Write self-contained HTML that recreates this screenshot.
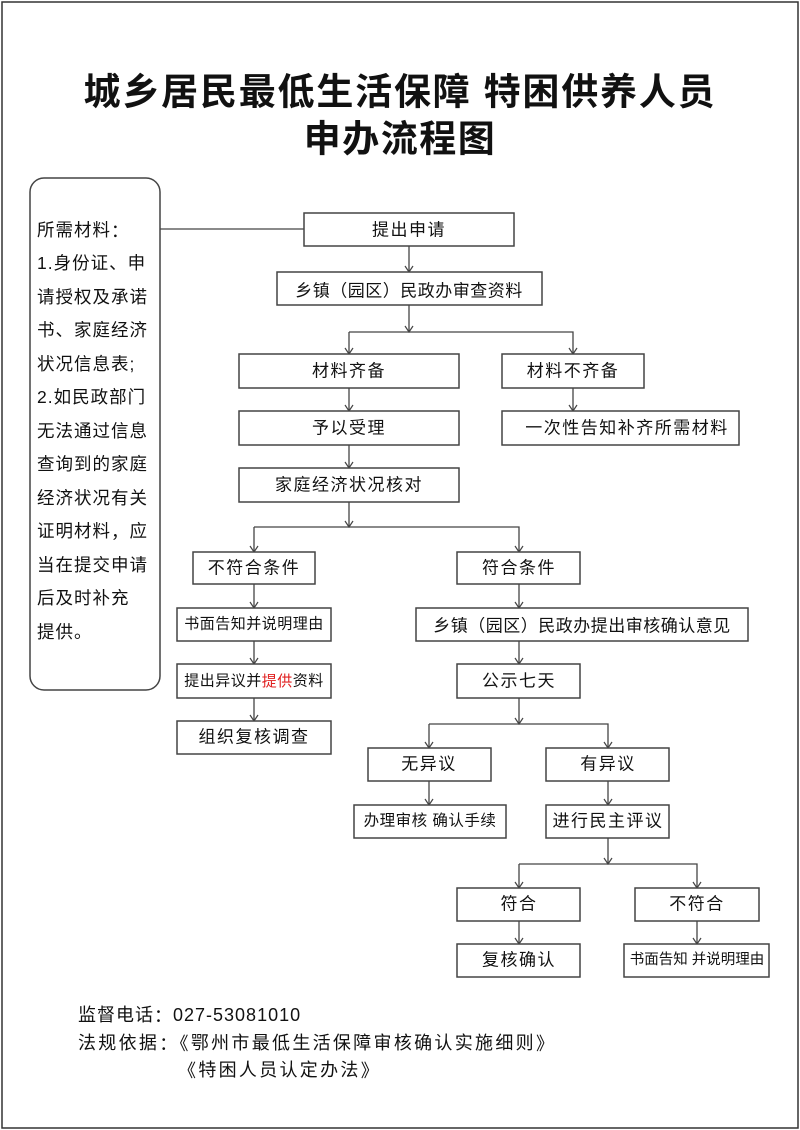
<!DOCTYPE html>
<html><head><meta charset="utf-8"><style>
html,body{margin:0;padding:0;background:#fff}
svg{display:block}
text{font-family:"Liberation Sans","Noto Sans CJK SC",sans-serif;fill:#111}
.b{fill:#fff;stroke:#444;stroke-width:1.5}
.t{font-size:17px;text-anchor:middle;dominant-baseline:central;letter-spacing:1.5px}
.l{stroke:#444;stroke-width:1.3;fill:none}
.c{font-family:"Noto Sans CJK SC",sans-serif}
</style></head><body>
<svg width="800" height="1130" viewBox="0 0 800 1130" xmlns="http://www.w3.org/2000/svg">
<defs><marker id="a" markerWidth="10" markerHeight="10" refX="9" refY="5" orient="auto" markerUnits="userSpaceOnUse"><path d="M3,1 L9,5 L3,9" fill="none" stroke="#444" stroke-width="1.2"/></marker></defs>
<rect x="2" y="2" width="796" height="1126" fill="none" stroke="#333" stroke-width="1.5"/>
<text x="400" y="92" style="font-size:37px;font-weight:bold;text-anchor:middle;dominant-baseline:central;letter-spacing:1.8px">城乡居民最低生活保障 特困供养人员</text>
<text x="400" y="139" style="font-size:37px;font-weight:bold;text-anchor:middle;dominant-baseline:central;letter-spacing:1.5px">申办流程图</text>

<rect x="30" y="178" width="130" height="512" rx="14" fill="#fff" stroke="#444" stroke-width="1.5"/>
<g style="font-size:17.5px;letter-spacing:1px;dominant-baseline:central">
<text x="37" y="230">所需材料<tspan class="c">：</tspan></text>
<text x="37" y="263">1.身份证、申</text>
<text x="37" y="297">请授权及承诺</text>
<text x="37" y="330">书、家庭经济</text>
<text x="37" y="364">状况信息表;</text>
<text x="37" y="397">2.如民政部门</text>
<text x="37" y="431">无法通过信息</text>
<text x="37" y="464">查询到的家庭</text>
<text x="37" y="498">经济状况有关</text>
<text x="37" y="531">证明材料<tspan class="c">，</tspan>应</text>
<text x="37" y="565">当在提交申请</text>
<text x="37" y="598">后及时补充</text>
<text x="37" y="632">提供。</text>
</g>
<line class="l" x1="160" y1="229" x2="304" y2="229"/>

<g class="l">
<line x1="409" y1="246" x2="409" y2="272" marker-end="url(#a)"/>
<line x1="409" y1="305" x2="409" y2="332" marker-end="url(#a)"/>
<polyline points="349,332 573,332 573,354" marker-end="url(#a)"/>
<line x1="349" y1="332" x2="349" y2="354" marker-end="url(#a)"/>
<line x1="349" y1="388" x2="349" y2="411" marker-end="url(#a)"/>
<line x1="573" y1="388" x2="573" y2="411" marker-end="url(#a)"/>
<line x1="349" y1="445" x2="349" y2="468" marker-end="url(#a)"/>
<line x1="349" y1="502" x2="349" y2="527" marker-end="url(#a)"/>
<polyline points="254,527 519,527 519,552" marker-end="url(#a)"/>
<line x1="254" y1="527" x2="254" y2="552" marker-end="url(#a)"/>
<line x1="254" y1="584" x2="254" y2="608" marker-end="url(#a)"/>
<line x1="254" y1="641" x2="254" y2="664" marker-end="url(#a)"/>
<line x1="254" y1="698" x2="254" y2="721" marker-end="url(#a)"/>
<line x1="519" y1="584" x2="519" y2="608" marker-end="url(#a)"/>
<line x1="519" y1="641" x2="519" y2="664" marker-end="url(#a)"/>
<line x1="519" y1="698" x2="519" y2="724" marker-end="url(#a)"/>
<polyline points="429,724 608,724 608,748" marker-end="url(#a)"/>
<line x1="429" y1="724" x2="429" y2="748" marker-end="url(#a)"/>
<line x1="429" y1="781" x2="429" y2="805" marker-end="url(#a)"/>
<line x1="608" y1="781" x2="608" y2="805" marker-end="url(#a)"/>
<line x1="608" y1="838" x2="608" y2="864" marker-end="url(#a)"/>
<polyline points="519,864 697,864 697,888" marker-end="url(#a)"/>
<line x1="519" y1="864" x2="519" y2="888" marker-end="url(#a)"/>
<line x1="519" y1="921" x2="519" y2="944" marker-end="url(#a)"/>
<line x1="697" y1="921" x2="697" y2="944" marker-end="url(#a)"/>
</g>

<rect class="b" x="304" y="213" width="210" height="33"/><text class="t" x="409" y="230">提出申请</text>
<rect class="b" x="277" y="272" width="265" height="33"/><text class="t c" x="409" y="289" style="letter-spacing:0.5px">乡镇（园区）民政办审查资料</text>
<rect class="b" x="239" y="354" width="220" height="34"/><text class="t" x="349" y="371">材料齐备</text>
<rect class="b" x="502" y="354" width="142" height="34"/><text class="t" x="573" y="371">材料不齐备</text>
<rect class="b" x="239" y="411" width="220" height="34"/><text class="t" x="349" y="428">予以受理</text>
<rect class="b" x="502" y="411" width="237" height="34"/><text class="t" x="627" y="428">一次性告知补齐所需材料</text>
<rect class="b" x="239" y="468" width="220" height="34"/><text class="t" x="349" y="485">家庭经济状况核对</text>

<rect class="b" x="193" y="552" width="122" height="32"/><text class="t" x="254" y="568">不符合条件</text>
<rect class="b" x="457" y="552" width="123" height="32"/><text class="t" x="519" y="568">符合条件</text>
<rect class="b" x="177" y="608" width="154" height="33"/><text class="t" x="254" y="624" style="font-size:15px;letter-spacing:0.5px">书面告知并说明理由</text>
<rect class="b" x="416" y="608" width="332" height="33"/><text class="t c" x="582" y="624" style="letter-spacing:0.5px">乡镇（园区）民政办提出审核确认意见</text>
<rect class="b" x="177" y="664" width="154" height="34"/><text class="t" x="254" y="681" style="font-size:15px;letter-spacing:0.5px">提出异议并<tspan style="fill:#e02020">提供</tspan>资料</text>
<rect class="b" x="457" y="664" width="123" height="34"/><text class="t" x="519" y="681">公示七天</text>
<rect class="b" x="177" y="721" width="154" height="33"/><text class="t" x="254" y="737">组织复核调查</text>

<rect class="b" x="368" y="748" width="123" height="33"/><text class="t" x="429" y="764">无异议</text>
<rect class="b" x="546" y="748" width="123" height="33"/><text class="t" x="608" y="764">有异议</text>
<rect class="b" x="354" y="805" width="152" height="33"/><text class="t" x="430" y="821" style="font-size:15.5px;letter-spacing:0.5px">办理审核 确认手续</text>
<rect class="b" x="546" y="805" width="123" height="33"/><text class="t" x="608" y="821">进行民主评议</text>

<rect class="b" x="457" y="888" width="123" height="33"/><text class="t" x="519" y="904">符合</text>
<rect class="b" x="635" y="888" width="124" height="33"/><text class="t" x="697" y="904">不符合</text>
<rect class="b" x="457" y="944" width="123" height="33"/><text class="t" x="519" y="960">复核确认</text>
<rect class="b" x="624" y="944" width="145" height="33"/><text class="t" x="697" y="960" style="font-size:14.5px;letter-spacing:0px">书面告知 并说明理由</text>

<g style="font-size:18px;dominant-baseline:central;letter-spacing:1px">
<text x="78" y="1015">监督电话<tspan class="c">：</tspan>027-53081010</text>
<text x="78" y="1043" style="letter-spacing:2.3px">法规依据<tspan class="c">：</tspan><tspan class="c">《</tspan>鄂州市最低生活保障审核确认实施细则<tspan class="c">》</tspan></text>
<text x="178" y="1070" style="letter-spacing:2.3px"><tspan class="c">《</tspan>特困人员认定办法<tspan class="c">》</tspan></text>
</g>
</svg>
</body></html>
